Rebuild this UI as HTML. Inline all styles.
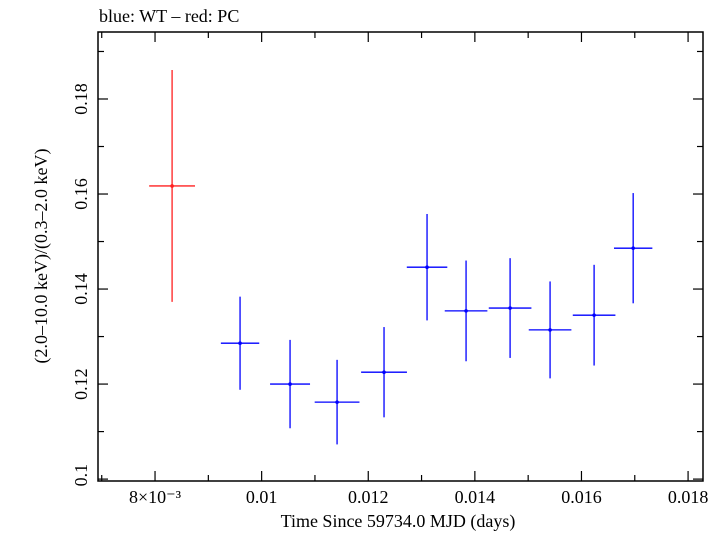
<!DOCTYPE html>
<html><head><meta charset="utf-8"><style>
body{margin:0;background:#fff}
svg text{font-family:"Liberation Serif",serif;fill:#000}
</style></head><body>
<svg id="chart" width="726" height="532" xmlns="http://www.w3.org/2000/svg">
<text x="99" y="22" font-size="18">blue: WT – red: PC</text>
<rect x="98" y="32" width="605" height="449" fill="none" stroke="#000" stroke-width="1.5"/>
<g id="ticks"></g>
<g id="marks"></g>
<text x="398" y="527" font-size="18" text-anchor="middle">Time Since 59734.0 MJD (days)</text>
<text transform="translate(47,256) rotate(-90)" font-size="18" text-anchor="middle">(2.0–10.0 keV)/(0.3–2.0 keV)</text>
</svg>
<script>
const pcTime=[0.00832];
const pcTimeErr=[0.00043];
const pcRatio=[0.1617];
const pcRatioErr=[0.0244];
const wtTime=[0.009595,0.010533,0.011415,0.012296,0.013103,0.013835,0.014661,0.015411,0.016237,0.01697];
const wtTimeErr=[0.00036,0.000375,0.00042,0.00043,0.00038,0.0004,0.0004,0.0004,0.0004,0.00036];
const wtRatio=[0.1286,0.12,0.1162,0.1225,0.1446,0.1354,0.136,0.1314,0.1345,0.1486];
const wtRatioErr=[0.0098,0.0093,0.0089,0.0095,0.0112,0.0106,0.0105,0.0102,0.0106,0.0116];
const xTickVals=[0.008,0.01,0.012,0.014,0.016,0.018];
const xTickLabels=["8×10⁻³","0.01","0.012","0.014","0.016","0.018"];
const yTickVals=[0.1,0.12,0.14,0.16,0.18];
const yTickLabels=["0.1","0.12","0.14","0.16","0.18"];

const NS="http://www.w3.org/2000/svg";
const L=98,R=703,T=32,B=481;
const xMin=0.00693,xMax=0.01828,yMin=0.0996,yMax=0.1941;
function xs(v){return L+(v-xMin)/(xMax-xMin)*(R-L);}
function ys(v){return B-(v-yMin)/(yMax-yMin)*(B-T);}
function mk(tag,attrs,parent){const e=document.createElementNS(NS,tag);for(const k in attrs)e.setAttribute(k,attrs[k]);parent.appendChild(e);return e;}
const tg=document.getElementById('ticks');
for(let i=0;i<=12;i++){const v=0.007+i*0.001;if(v>xMax)break;const x=xs(v);const major=Math.abs(v*1000-Math.round(v*1000/2)*2)<1e-6;const len=major?10:6;
 const t1=mk('line',{x1:x,x2:x,y1:B,y2:B-len,stroke:'#000','stroke-width':1.2},tg);
 
 
 const t2=mk('line',{x1:x,x2:x,y1:T,y2:T+len,stroke:'#000','stroke-width':1.2},tg);
 
 }
for(let i=0;i<=9;i++){const v=0.1+i*0.01;if(v>yMax)break;const y=ys(v);const major=i%2===0;const len=major?10:6;
 const t1=mk('line',{x1:L,x2:L+len,y1:y,y2:y,stroke:'#000','stroke-width':1.2},tg);
 
 
 const t2=mk('line',{x1:R,x2:R-len,y1:y,y2:y,stroke:'#000','stroke-width':1.2},tg);
 
 }
xTickVals.forEach((v,i)=>{const t=mk('text',{x:xs(v),y:503,'font-size':18,'text-anchor':'middle'},tg);t.textContent=xTickLabels[i];
 
 });
yTickVals.forEach((v,i)=>{const y=ys(v)+(i===0?-4:0);const t=mk('text',{transform:`translate(87,${y}) rotate(-90)`,'font-size':18,'text-anchor':'middle'},tg);t.textContent=yTickLabels[i];
 
 });
const mg=document.getElementById('marks');
function draw(ts,te,rs,re,color,name){for(let i=0;i<ts.length;i++){const g=mk('g',{stroke:color,'stroke-width':1.3},mg);
 
 
 const x=xs(ts[i]),y=ys(rs[i]);
 mk('line',{x1:xs(ts[i]-te[i]),x2:xs(ts[i]+te[i]),y1:y,y2:y},g);
 mk('line',{x1:x,x2:x,y1:ys(rs[i]-re[i]),y2:ys(rs[i]+re[i])},g);
 mk('circle',{cx:x,cy:y,r:1.8,fill:color,stroke:'none'},g);}}
draw(pcTime,pcTimeErr,pcRatio,pcRatioErr,'#ff2020','pc-point');
draw(wtTime,wtTimeErr,wtRatio,wtRatioErr,'#0000ff','wt-point');
</script>
</body></html>
